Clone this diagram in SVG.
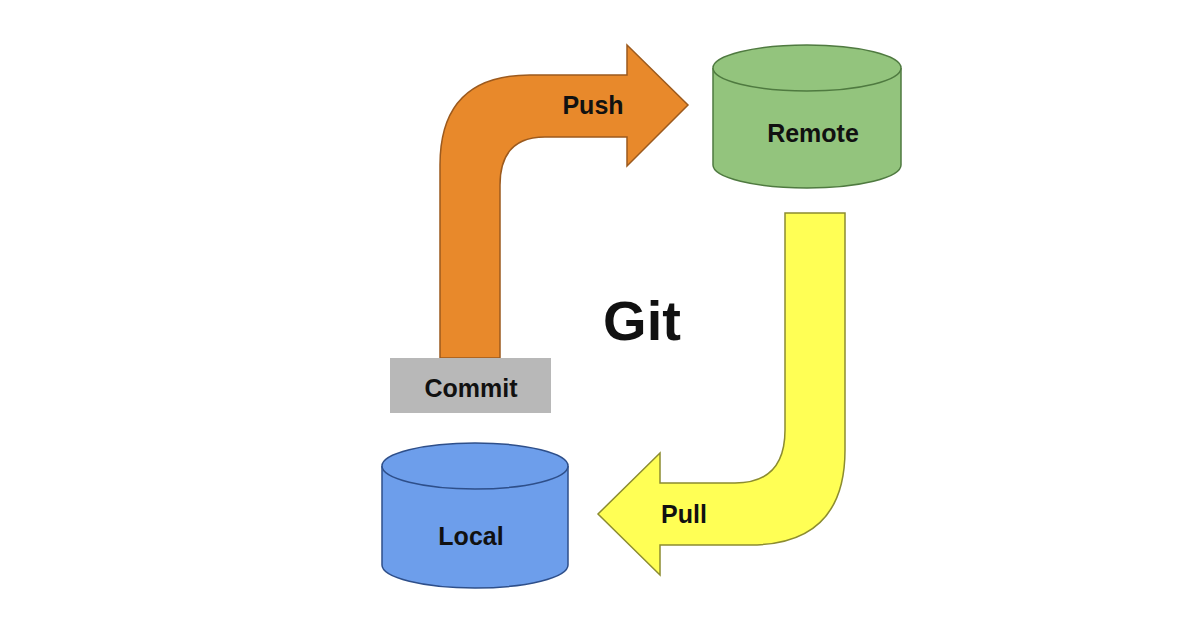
<svg xmlns="http://www.w3.org/2000/svg" width="1196" height="628" viewBox="0 0 1196 628">
<style>
text{font-family:"Liberation Sans",Arial,sans-serif;font-weight:bold;fill:#111;text-anchor:middle}
.lbl{font-size:25px}
</style>
<rect width="1196" height="628" fill="#fff"/>
<g id="connectors">
<path id="push" d="M440,358 L440,165 Q440,75 530,75 L627,75 L627,45 L688,105 L627,166 L627,137 L545,137 Q500,137 500,185 L500,358 Z" fill="#E8892B" stroke="#9C5A1E" stroke-width="1.5"/>
<text class="lbl" x="593" y="114">Push</text>
<path id="pull" d="M785,213 L845,213 L845,450 Q845,545 750,545 L660,545 L660,575 L598,514 L660,453 L660,483 L735,483 Q785,483 785,430 Z" fill="#FFFF55" stroke="#8C8C30" stroke-width="1.5"/>
<text class="lbl" x="684" y="523">Pull</text>
</g>
<g id="commit">
<rect x="390" y="358" width="161" height="55" fill="#B8B8B8"/>
<text class="lbl" x="471" y="397">Commit</text>
</g>
<g id="remote">
<path d="M713,68 L713,165 A94,23 0 0 0 901,165 L901,68" fill="#93C47D" stroke="#4F7A40" stroke-width="1.5"/>
<ellipse cx="807" cy="68" rx="94" ry="23" fill="#93C47D" stroke="#4F7A40" stroke-width="1.5"/>
<text class="lbl" x="813" y="142">Remote</text>
</g>
<g id="local">
<path d="M382,466 L382,565 A93,23 0 0 0 568,565 L568,466" fill="#6D9EEB" stroke="#2E4F8A" stroke-width="1.5"/>
<ellipse cx="475" cy="466" rx="93" ry="23" fill="#6D9EEB" stroke="#2E4F8A" stroke-width="1.5"/>
<text class="lbl" x="471" y="545">Local</text>
</g>
<text id="git" x="642" y="340" font-size="56">Git</text>
</svg>
